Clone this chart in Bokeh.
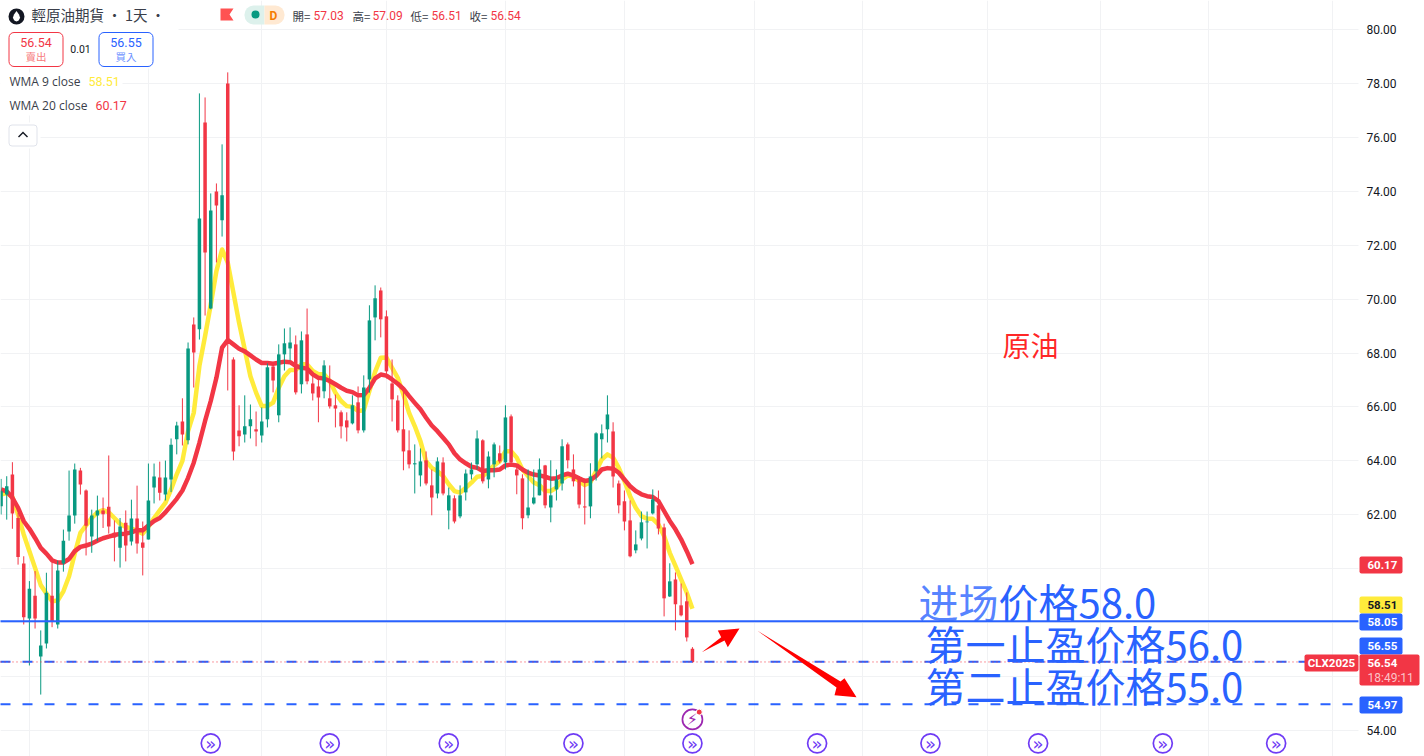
from bokeh.plotting import figure
from bokeh.models import Range1d, FixedTicker, NumeralTickFormatter, Label, BoxAnnotation, PolyAnnotation, LinearAxis, Grid
from bokeh.core.properties import value
from bokeh.embed import file_html
from bokeh.resources import INLINE

opens = [62.32,62.75,63.49,61.88,60.19,58.15,59.00,56.74,57.22,59.00,57.93,60.19,61.38,61.97,63.64,62.90,61.19,61.97,62.16,62.30,61.33,60.78,61.70,61.01,61.86,60.97,61.08,63.01,63.38,62.75,63.31,
64.80,65.46,64.76,69.06,68.88,76.55,69.65,73.99,72.92,78.00,67.76,65.13,64.98,65.28,65.17,64.94,65.54,67.50,65.69,67.95,68.17,68.32,66.84,68.69,66.87,66.76,66.58,66.32,66.06,65.80,65.50,65.39,66.17,65.13,67.02,69.32,70.32,69.36,
66.87,66.24,65.17,64.39,63.87,63.46,64.02,63.09,62.79,63.94,62.16,62.61,61.94,62.83,63.50,63.87,64.76,63.31,63.87,64.28,63.94,65.65,63.68,63.35,61.98,62.42,62.72,
63.83,62.27,62.94,63.16,64.61,63.68,63.31,62.31,62.31,63.61,64.80,65.17,65.09,63.16,62.50,61.79,60.68,61.12,61.72,62.05,62.35,61.53,58.97,59.60,58.64,58.79,57.03]
highs = [63.33,63.43,63.95,62.07,60.46,59.54,59.91,57.71,59.85,60.24,60.30,61.45,63.64,63.90,63.74,62.94,62.19,62.71,62.64,64.20,61.79,61.88,62.16,62.56,63.08,61.75,63.90,63.90,63.97,64.01,64.83,
65.45,66.32,68.39,69.32,77.63,77.48,73.92,74.29,75.74,78.41,67.84,66.06,66.43,66.09,65.83,65.98,67.61,67.61,68.32,68.91,68.95,68.65,68.80,69.65,67.17,67.09,67.73,67.54,66.46,65.87,65.80,66.43,66.76,67.17,69.77,70.51,70.43,69.58,
67.76,66.43,66.76,65.13,64.61,64.46,64.35,63.68,64.13,64.13,63.01,62.72,63.09,63.68,63.94,65.13,64.80,64.35,64.68,64.57,66.06,65.72,63.87,63.50,63.68,63.68,64.09,
63.85,64.02,63.68,64.80,64.68,64.24,63.42,63.35,63.91,65.06,65.35,66.43,65.43,63.27,62.90,62.53,61.42,62.12,62.12,62.94,62.90,61.67,60.20,59.86,59.45,59.12,57.09]
lows = [62.01,61.82,61.48,60.15,57.93,56.41,57.78,55.33,57.04,57.83,57.78,59.89,61.04,61.67,62.75,60.49,60.59,61.02,61.51,61.30,60.27,60.04,60.27,60.86,60.56,59.75,61.08,62.42,62.53,62.53,62.84,
64.24,64.57,64.61,66.72,68.50,69.39,69.62,71.36,72.32,66.61,64.02,64.54,64.68,64.83,64.54,64.68,65.24,66.54,65.43,67.35,67.73,66.46,66.50,66.84,66.24,65.43,66.32,65.94,65.24,64.83,64.72,65.35,65.02,65.05,66.53,68.47,68.58,67.06,
65.46,65.05,63.65,63.72,62.79,63.05,63.09,61.98,62.61,62.72,61.46,61.68,61.87,62.53,63.31,63.68,63.16,62.98,63.39,63.91,63.68,63.91,62.76,61.46,61.87,62.38,62.72,
62.24,61.72,62.53,62.90,63.72,63.05,62.24,61.64,61.87,63.27,64.09,64.68,63.01,62.05,61.42,60.42,60.57,61.05,60.75,62.01,61.27,58.23,58.95,57.71,58.23,57.30,56.51]
closes = [62.87,63.06,62.05,60.43,58.20,59.26,58.15,57.15,59.11,58.04,59.93,61.04,61.97,63.68,63.12,61.59,61.97,62.16,62.02,61.56,61.16,61.56,60.86,61.86,60.93,60.78,62.53,63.42,62.82,63.38,64.60,
65.31,64.98,68.17,68.02,72.99,71.73,73.29,73.47,73.85,68.50,64.35,64.91,65.28,65.54,65.09,65.46,67.47,66.98,67.95,68.36,68.39,66.54,68.47,66.95,66.50,66.35,67.54,66.02,65.94,65.28,65.24,66.06,65.13,66.72,69.21,70.03,69.25,67.32,
66.28,65.13,64.35,63.87,63.91,63.98,63.16,62.64,63.98,62.79,62.72,61.75,62.72,63.53,63.68,64.83,63.24,64.16,64.61,63.98,65.61,63.94,63.46,61.87,62.27,62.64,63.68,
62.35,62.72,63.31,64.54,64.02,63.24,62.38,62.27,63.42,65.02,65.02,65.72,63.42,62.35,61.75,60.46,60.90,61.72,61.75,62.57,61.49,58.90,59.53,58.68,58.27,57.45,56.54]
wma9 = [62.75,62.81,62.66,62.01,61.27,60.65,60.03,59.39,59.08,58.79,58.82,59.16,59.72,60.56,61.33,61.61,61.88,62.09,62.17,62.09,61.88,61.66,61.55,61.49,61.41,61.30,61.55,61.88,62.16,62.44,62.94,
63.50,64.00,65.10,65.78,67.52,68.63,69.80,71.04,71.84,71.35,70.24,69.12,68.13,67.14,66.53,66.03,66.03,66.16,66.71,67.14,67.37,67.37,67.58,67.58,67.33,67.21,67.21,66.96,66.53,66.22,66.03,66.01,65.85,65.88,66.60,67.30,67.82,67.83,
67.45,67.08,66.46,65.78,65.29,64.73,63.99,63.74,63.62,63.44,63.13,62.88,62.82,63.00,63.19,63.41,63.44,63.62,63.83,63.99,64.36,64.36,64.12,63.68,63.44,63.20,63.10,
62.88,62.88,63.00,63.31,63.46,63.41,63.25,63.10,63.21,63.62,64.05,64.24,64.12,63.74,63.25,62.69,62.26,61.95,61.85,61.85,61.64,61.21,60.59,60.10,59.60,59.11,58.51]
wma20 = [62.94,62.87,62.63,62.26,61.76,61.48,61.14,60.77,60.56,60.31,60.23,60.23,60.36,60.65,60.81,60.86,60.93,61.04,61.13,61.19,61.25,61.29,61.30,61.35,61.43,61.43,61.60,61.77,61.88,62.09,62.34,
62.59,62.90,63.37,63.93,64.67,65.48,66.22,67.08,68.20,68.48,68.32,68.16,68.06,67.91,67.76,67.63,67.63,67.60,67.64,67.68,67.66,67.52,67.45,67.42,67.21,67.08,67.05,66.96,66.84,66.71,66.60,66.55,66.43,66.44,66.71,67.06,67.20,67.16,
67.02,66.86,66.67,66.40,66.15,65.91,65.60,65.31,65.10,64.86,64.61,64.28,64.05,63.91,63.78,63.74,63.62,63.65,63.65,63.68,63.83,63.86,63.83,63.68,63.56,63.49,63.46,
63.41,63.34,63.35,63.46,63.52,63.46,63.35,63.25,63.29,63.44,63.68,63.73,63.71,63.56,63.31,63.06,62.88,62.76,62.69,62.66,62.51,62.14,61.77,61.46,61.09,60.65,60.17]
price_ticks = [80,78,76,74,72,70,68,66,64,62,60,58,56,54]
time_grid = [5,26,46,68,89,110,133,152,174,194,213,235]
event_idx = [37,58,79,101,122,144,164,183,205,225]
entry_price = 58.05
target1_price = 56.55
target2_price = 54.97
last_price = 56.54

RED = "#F23645"; GREEN = "#089981"; BLUE = "#2962FF"; YEL = "#FFEB3B"; DARK = "#131722"; PURPLE = "#6F3BF5"
W, H = 1424, 756
CJK_TC = "Noto Sans CJK TC"; CJK_SC = "Noto Sans CJK SC"; LAT = "Roboto"
X0, X_AXIS, X1 = -0.1, 239.53, 251.18

p = figure(width=W, height=H, output_backend="svg", toolbar_location=None,
           x_range=Range1d(X0, X1), y_range=Range1d(53.033, 81.076),
           x_axis_location=None, y_axis_location=None, margin=0)
p.min_border = 0
p.outline_line_color = None
p.background_fill_color = "white"
for g in p.grid:
    g.visible = False
ax = LinearAxis(fixed_location=X_AXIS, ticker=FixedTicker(ticks=price_ticks), formatter=NumeralTickFormatter(format="0.00"))
ax.axis_line_color = None
ax.major_tick_line_color = None
ax.minor_tick_line_color = None
ax.major_label_standoff = 2
ax.major_label_text_font = LAT
ax.major_label_text_font_size = "12px"
ax.major_label_text_color = DARK
p.add_layout(ax, "right")
p.add_layout(Grid(dimension=1, ticker=FixedTicker(ticks=price_ticks), grid_line_color="#F1F2F4"))
p.add_layout(Grid(dimension=0, ticker=FixedTicker(ticks=time_grid), grid_line_color="#F1F2F4"))

idx = list(range(len(closes)))
p.line(idx, wma9, line_color=YEL, line_width=4.5, line_join="round")
p.line(idx, wma20, line_color=RED, line_width=4.5, line_join="round")
cols = [GREEN if c >= o else RED for o, c in zip(opens, closes)]
p.segment(idx, highs, idx, lows, line_color=cols, line_width=1)
p.vbar(x=idx, top=[max(o, c) for o, c in zip(opens, closes)], bottom=[min(o, c) for o, c in zip(opens, closes)],
       width=0.62, fill_color=cols, line_color=None)

p.segment([X0], [entry_price], [X_AXIS], [entry_price], line_color=BLUE, line_width=2, level="annotation")
p.segment([X0], [target1_price], [X_AXIS], [target1_price], line_color=BLUE, line_width=2, line_dash="10 12", level="annotation")
p.segment([X0], [target2_price], [X_AXIS], [target2_price], line_color=BLUE, line_width=2, line_dash="10 12", level="annotation")
p.segment([X0], [last_price], [X_AXIS], [last_price], line_color=RED, line_width=1, line_dash="1 3", level="annotation")

# event markers
ev_y = [53.52] * len(event_idx)
p.scatter(event_idx, ev_y, size=19, marker="circle", fill_color="white", line_color=PURPLE, line_width=1.7)
p.text(event_idx, ev_y, text=["»"] * len(event_idx), text_font=value("DejaVu Sans"), text_font_size="18px",
       text_color=PURPLE, text_align="center", text_baseline="middle")
p.scatter([122], [54.41], size=20, marker="circle", fill_color="white", line_color="#9C27B0", line_width=1.7)
p.text([122], [54.41], text=["⚡"], text_font=value("DejaVu Sans"), text_font_size="16px", text_color="#9C27B0",
       text_align="center", text_baseline="middle")
p.scatter([123.2], [54.68], size=6, marker="circle", fill_color=RED, line_color="white", line_width=1)


def box(x0, x1, y0, y1, fill="white", line=None, radius=0, lw=1, level="overlay"):
    p.add_layout(BoxAnnotation(left=x0, right=x1, top=H - y0, bottom=H - y1,
                               left_units="screen", right_units="screen", top_units="screen", bottom_units="screen",
                               fill_color=fill, fill_alpha=1 if fill else 0, line_color=line, line_alpha=1 if line else 0,
                               line_width=lw, border_radius=radius, level=level))


def lab(text, x, y, size, color, align="left", font=LAT, style="normal", baseline="middle", alpha=1.0):
    p.add_layout(Label(x=x, y=H - y, x_units="screen", y_units="screen", text=text, text_font=font,
                       text_font_size=f"{size}px", text_color=color, text_align=align, text_baseline=baseline,
                       text_font_style=style, text_alpha=alpha, level="overlay"))


def poly(pts, fill):
    p.add_layout(PolyAnnotation(xs=[a for a, _ in pts], ys=[H - b for _, b in pts], xs_units="screen", ys_units="screen",
                                fill_color=fill, fill_alpha=1, line_color=None, level="overlay"))


# price-scale strip and legend masks
box(1358, 1424, 0, 756, level="glyph")
box(0, 178, 0, 68)
box(203, 210, 0, 28)
box(0, 122, 72, 115)
box(0, 40, 122, 148)

# drawn arrows
poly([(701.3, 651.7), (720.7, 636.7), (717.3, 630), (739, 628), (727.3, 646.7), (724, 640)], "#FF0000")
poly([(756.7, 630), (840, 681), (844, 677.7), (856, 696.7), (834, 694.7), (836, 687)], "#FF0000")

# header
box(8, 24, 8, 24, fill="#131722", radius=8)
poly([(16, 10.5), (18.5, 14), (19.6, 17.2), (18.2, 20), (16, 21), (13.8, 20), (12.4, 17.2), (13.5, 14)], "white")
lab("輕原油期貨 · 1天 ·", 31, 14, 14.5, "#3A3E4A", font=CJK_TC)
poly([(220, 8), (233, 8), (229, 14), (233, 20), (220, 20)], "#FF5252")
box(244, 264, 5, 24, fill="#DDF1EC", radius=(9, 0, 0, 9))
box(264, 284, 5, 24, fill="#FFE9D2", radius=(0, 9, 9, 0))
box(251, 259, 10, 18, fill=GREEN, radius=4)
lab("D", 273, 15, 12, "#F57C00", align="center", style="bold")
for name, xn, val, xv in [("開=", 292, "57.03", 313), ("高=", 352, "57.09", 372), ("低=", 410, "56.51", 431), ("收=", 469, "56.54", 490)]:
    lab(name, xn, 15, 11.5, "#3A3E4A", font=CJK_TC)
    lab(val, xv, 15, 12, RED)

box(8.5, 62.5, 32, 66, fill="white", line=RED, radius=5)
lab("56.54", 35.5, 41.5, 12.5, RED, align="center")
lab("賣出", 35.5, 55.5, 10.5, "#F77C80", align="center", font=CJK_TC)
lab("0.01", 80, 48, 10.5, DARK, align="center")
box(98.5, 152.5, 32, 66, fill="white", line=BLUE, radius=5)
lab("56.55", 125.5, 41.5, 12.5, BLUE, align="center")
lab("買入", 125.5, 55.5, 10.5, "#6E93FF", align="center", font=CJK_TC)

lab("WMA 9 close", 9, 81, 12, "#3A3E4A", font="Open Sans")
lab("58.51", 88, 81, 12.5, YEL)
lab("WMA 20 close", 9, 105, 12, "#3A3E4A", font="Open Sans")
lab("60.17", 95, 105, 12.5, RED)
box(8.5, 36.5, 124.5, 145.5, fill="white", line="#E0E3EB", radius=3)
poly([(17.5, 136), (22.5, 131), (27.5, 136), (26.5, 137), (22.5, 133), (18.5, 137)], DARK)

# big annotations
lab("原油", 1002, 344.5, 28, "#FF0000", font=CJK_SC, alpha=0.85)
lab("进场", 918, 600, 40, BLUE, font=CJK_SC, baseline="alphabetic", alpha=0.8)
lab("价格58.0", 998, 600, 40, BLUE, font=CJK_SC, baseline="alphabetic")
lab("第一止盈价格56.0", 925, 642, 40, BLUE, font=CJK_SC, baseline="alphabetic")
lab("第二止盈价格55.0", 925, 684, 40, BLUE, font=CJK_SC, baseline="alphabetic")

# price tags
for y0, fill, txt, col in [(556, RED, "60.17", "white"), (596, YEL, "58.51", DARK), (613, BLUE, "58.05", "white"),
                           (637, BLUE, "56.55", "white"), (696, BLUE, "54.97", "white")]:
    box(1359, 1402, y0, y0 + 17, fill=fill, radius=2)
    lab(txt, 1367, y0 + 8.5, 11.5, col, style="bold")
box(1359, 1419, 654, 685, fill=RED, radius=2)
lab("56.54", 1367, 662.5, 11.5, "white", style="bold")
lab("18:49:11", 1367, 677, 12, "#FBC4C9")
box(1304, 1358, 654, 671, fill=RED, radius=2)
lab("CLX2025", 1331, 662.5, 11.5, "white", align="center", style="bold")

open("out.html", "w").write(file_html(p, INLINE))
